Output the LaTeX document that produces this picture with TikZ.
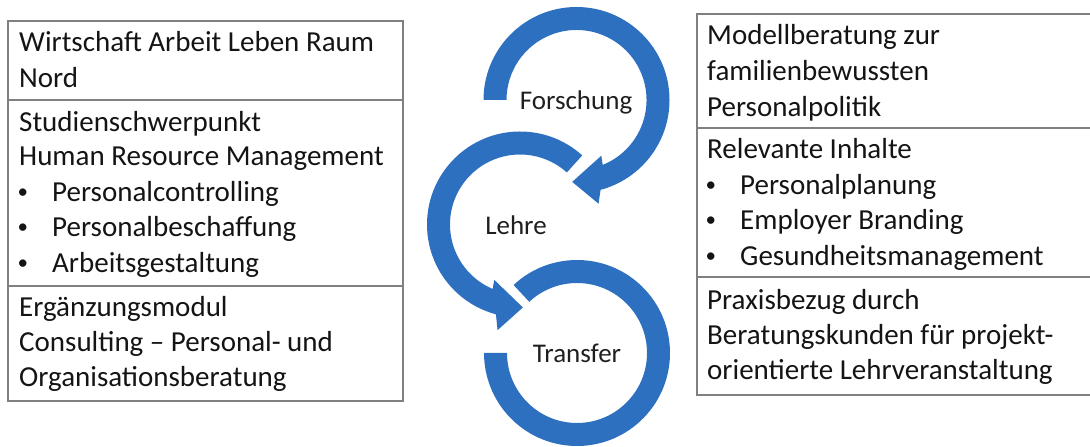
\documentclass[tikz,border=0pt]{standalone}
\usepackage{fontspec}
\setmainfont{Carlito}
\definecolor{ringblue}{RGB}{46,112,192}
\definecolor{tablegray}{RGB}{128,128,128}
\tikzset{
  boxtext/.style={anchor=base west, inner sep=0pt, font=\fontsize{29}{35.5}\selectfont, text=black!92},
  ringlabel/.style={anchor=base, inner sep=0pt, font=\fontsize{27}{32}\selectfont, text=black!88},
  tableline/.style={draw=tablegray, line width=1.4pt},
  ring/.style={fill=ringblue}
}
\newcommand{\bul}[1]{\makebox[33pt][l]{\hspace{-1.5pt}\raisebox{3pt}{\fontsize{21}{21}\selectfont •}}#1}
\begin{document}
\begin{tikzpicture}[x=1pt,y=1pt]
\useasboundingbox (0,0) rectangle (1090,447);
% left table
\draw[tableline] (8,426) rectangle (403,46);
\draw[tableline] (8,347) -- (403,347);
\draw[tableline] (8,161) -- (403,161);
% right table
\draw[tableline] (1091,433) -- (697,433) -- (697,52) -- (1091,52);
\draw[tableline] (697,319) -- (1091,319);
\draw[tableline] (697,170) -- (1091,170);
% left texts
\node[boxtext] (l1) at (19,395) {Wirtschaft Arbeit Leben Raum};
\node[boxtext] (l2) at (19,359.5) {Nord};
\node[boxtext] (l3) at (19,315) {Studienschwerpunkt};
\node[boxtext] (l4) at (19,281) {Human Resource Management};
\node[boxtext] (l5) at (19,245) {\bul{Personalcontrolling}};
\node[boxtext] (l6) at (19,210) {\bul{Personalbeschaffung}};
\node[boxtext] (l7) at (19,174) {\bul{Arbeitsgestaltung}};
\node[boxtext] (l8) at (19,130) {Ergänzungsmodul};
\node[boxtext] (l9) at (19,95) {Consulting – Personal- und};
\node[boxtext] (l10) at (19,60) {Organisationsberatung};
% right texts
\node[boxtext] (r1) at (707,402) {Modellberatung zur};
\node[boxtext] (r2) at (707,366) {familienbewussten};
\node[boxtext] (r3) at (707,330) {Personalpolitik};
\node[boxtext] (r4) at (707,288) {Relevante Inhalte};
\node[boxtext] (r5) at (707,252) {\bul{Personalplanung}};
\node[boxtext] (r6) at (707,217) {\bul{Employer Branding}};
\node[boxtext] (r7) at (707,181) {\bul{Gesundheitsmanagement}};
\node[boxtext] (r8) at (707,137) {Praxisbezug durch};
\node[boxtext] (r9) at (707,102) {Beratungskunden für projekt-};
\node[boxtext] (r10) at (707,67) {orientierte Lehrveranstaltung};
% rings
\begin{scope}[shift={(576.5,347)}]
\fill[ring] (180:93) arc[start angle=180, end angle=-75, radius=93pt] -- (-78:106) -- (-93:82) -- (-66:61) -- (-68:70) arc[start angle=-68, end angle=180, radius=70pt] -- cycle;
\end{scope}
\begin{scope}[shift={(520,222.5)}]
\fill[ring] (48:93) arc[start angle=48, end angle=255, radius=93pt] -- (258:108) -- (272:83) -- (245:61) -- (247:70) arc[start angle=247, end angle=48, radius=70pt] -- cycle;
\end{scope}
\begin{scope}[shift={(577,94)}]
\fill[ring] (133:93) arc[start angle=133, end angle=-180, radius=93pt] -- (180:70) arc[start angle=-180, end angle=133, radius=70pt] -- cycle;
\end{scope}
% labels
\node[ringlabel] (forschung) at (576,337) {Forschung};
\node[ringlabel] (lehre) at (516,212) {Lehre};
\node[ringlabel] (transfer) at (577,84) {Transfer};
\end{tikzpicture}
\end{document}
